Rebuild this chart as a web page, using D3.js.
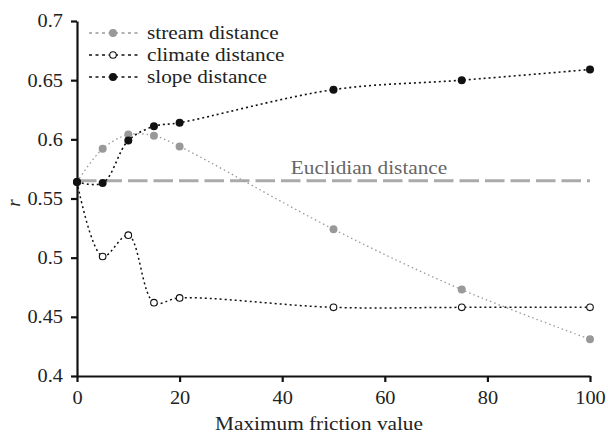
<!DOCTYPE html>
<html>
<head>
<meta charset="utf-8">
<script src="https://cdn.jsdelivr.net/npm/d3@7"></script>
<style>
  body { margin: 0; background: #fff; }
  svg text { font-family: "Liberation Serif", "DejaVu Serif", serif; }
</style>
</head>
<body>
<svg id="chart" width="608" height="435"></svg>
<script>
// friction values on x
let friction = [0, 5, 10, 15, 20, 50, 75, 100];
// correlation r for each resistance surface
let stream = [0.564, 0.592, 0.604, 0.603, 0.594, 0.524, 0.473, 0.431];
let climate = [0.564, 0.501, 0.519, 0.462, 0.466, 0.458, 0.458, 0.458];
let slope = [0.564, 0.563, 0.599, 0.611, 0.614, 0.642, 0.650, 0.659];
let euclid = 0.565;
let xTicks = [0, 20, 40, 60, 80, 100];
let yTicks = [0.4, 0.45, 0.5, 0.55, 0.6, 0.65, 0.7];

let stretch = 1.12; // the original type is set a bit wide
let tickStretch = 1.1;

let svg = d3.select('#chart');
let x = d3.scaleLinear().domain([0, 100]).range([77, 590]);
let y = d3.scaleLinear().domain([0.4, 0.7]).range([376, 21]);

// stretched text helper
let wideText = function(g, px, py, txt, size, anchor, fill) {
  return g.append('text').attr('transform', 'translate(' + px + ',' + py + ') scale(' + stretch + ',1)')
    .attr('text-anchor', anchor).attr('font-size', size).attr('fill', fill).text(txt);
}

// axes
let xAxis = svg.append('g').attr('transform', 'translate(0,376)')
  .call(d3.axisBottom(x).tickValues(xTicks).tickSize(6).tickPadding(4).tickSizeOuter(0));
let yAxis = svg.append('g').attr('transform', 'translate(77,0)')
  .call(d3.axisLeft(y).tickValues(yTicks).tickSize(6).tickPadding(6).tickSizeOuter(0)
    .tickFormat(d => String(+d.toFixed(2))));
[xAxis, yAxis].forEach(a => {
  a.selectAll('path, line').attr('stroke', '#111').attr('stroke-width', 2.2);
  a.selectAll('text').attr('font-size', 18.5).attr('fill', '#222');
});
xAxis.selectAll('text').attr('dy', '1em').attr('transform', 'scale(' + tickStretch + ',1)');
yAxis.selectAll('text').attr('x', -14 / tickStretch).attr('transform', 'scale(' + tickStretch + ',1)');

wideText(svg, 319, 430, 'Maximum friction value', 19, 'middle', '#222');
svg.append('text').attr('transform', 'translate(20,203) rotate(-90)')
  .attr('text-anchor', 'middle').attr('font-size', 19).attr('font-style', 'italic')
  .attr('fill', '#222').text('r');

// euclidian reference line
svg.append('line').attr('x1', x(0)).attr('x2', x(100)).attr('y1', y(euclid)).attr('y2', y(euclid))
  .attr('stroke', '#aaaaaa').attr('stroke-width', 3).attr('stroke-dasharray', '19.5,6');
wideText(svg, 369, 174, 'Euclidian distance', 19, 'middle', '#666');

let series = [
  {name: 'stream distance', vals: stream, line: '#999999', fill: '#999999', stroke: 'none', dash: '1.5,3', lw: 1.3, lr: 4},
  {name: 'climate distance', vals: climate, line: '#111', fill: '#fff', stroke: '#111', dash: '2,3', lw: 1.5, lr: 3.3},
  {name: 'slope distance', vals: slope, line: '#111', fill: '#111', stroke: 'none', dash: '2,3', lw: 1.6, lr: 4}
];

let line = d3.line().x(d => x(d[0])).y(d => y(d[1])).curve(d3.curveCatmullRom.alpha(0.5));

series.forEach(s => {
  let pts = friction.map((f, i) => [f, s.vals[i]]);
  svg.append('path').datum(pts).attr('d', line).attr('fill', 'none')
    .attr('stroke', s.line).attr('stroke-width', s.lw).attr('stroke-dasharray', s.dash);
});
series.forEach(s => {
  let pts = friction.map((f, i) => [f, s.vals[i]]);
  svg.append('g').selectAll('circle').data(pts).join('circle')
    .attr('cx', d => x(d[0])).attr('cy', d => y(d[1])).attr('r', s.lr)
    .attr('fill', s.fill).attr('stroke', s.stroke).attr('stroke-width', 1.1);
});

// legend
let legend = svg.append('g');
series.forEach((s, i) => {
  let ly = 33 + i * 22;
  legend.append('line').attr('x1', 89).attr('x2', 140).attr('y1', ly).attr('y2', ly)
    .attr('stroke', s.line).attr('stroke-width', 1.6).attr('stroke-dasharray', '3,3.5');
  legend.append('circle').attr('cx', 113).attr('cy', ly).attr('r', s.lr)
    .attr('fill', s.fill).attr('stroke', s.stroke).attr('stroke-width', 1.1);
  wideText(legend, 147, ly + 5.5, s.name, 19, 'start', '#222');
});
</script>
</body>
</html>
